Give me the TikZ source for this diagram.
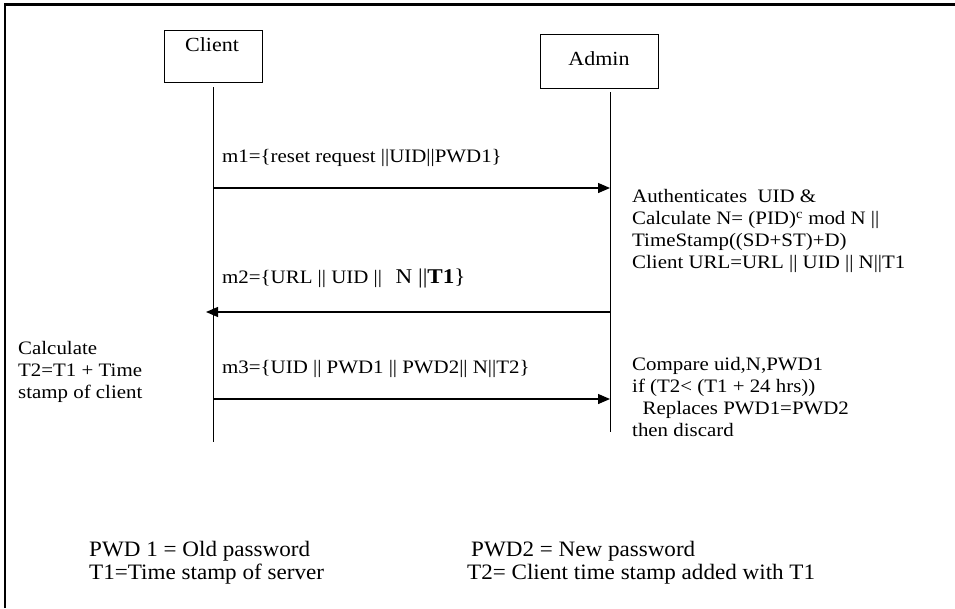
\documentclass[tikz,border=0pt]{standalone}
\usepackage{fontspec}
\setmainfont{Liberation Serif}
\newfontfamily\bodyfont[FakeStretch=1.1]{Liberation Serif}
\newfontfamily\legfont[FakeStretch=1.05]{Liberation Serif}
\usetikzlibrary{arrows.meta}
\tikzset{
  actor/.style={draw, line width=1pt, minimum width=98pt, minimum height=52pt, inner sep=0pt},
  lifeline/.style={line width=1pt},
  msg/.style={line width=1.3pt, -{Triangle[length=12pt,width=10pt]}},
  lbl/.style={anchor=base west, inner sep=0pt, font=\bodyfont\fontsize{19}{22}\selectfont},
  blk/.style={anchor=north west, inner sep=0pt, align=left, font=\bodyfont\fontsize{19}{22}\selectfont},
  legend/.style={anchor=base west, inner sep=0pt, font=\legfont\fontsize{22}{24}\selectfont},
  actorlbl/.style={inner sep=0pt, font=\bodyfont\fontsize{20}{22}\selectfont},
}
\begin{document}
\begin{tikzpicture}[x=1pt,y=-1pt]
\useasboundingbox (0,0) rectangle (955,608);
\draw[line width=2.5pt] (5,608) -- (5,4.5) -- (955,4.5);
% actors
\node[actor] (client) at (213,56) {};
\node[actorlbl, anchor=base] (clientlbl) at (212,51) {Client};
\node[actor, minimum width=118pt, minimum height=54pt] (admin) at (599,61) {};
\node[actorlbl] (adminlbl) at (599,59) {Admin};
% lifelines
\coordinate (cl0) at (213,87);
\coordinate (cl1) at (213,442);
\coordinate (al0) at (610,92);
\coordinate (al1) at (610,432);
\draw[lifeline] (cl0) -- (cl1);
\draw[lifeline] (al0) -- (al1);
% messages
\coordinate (m1a) at (213,188);
\coordinate (m1b) at (610,188);
\coordinate (m2a) at (610,312);
\coordinate (m2b) at (206,312);
\coordinate (m3a) at (213,399);
\coordinate (m3b) at (610,399);
\draw[msg] (m1a) -- (m1b);
\draw[msg] (m2a) -- (m2b);
\draw[msg] (m3a) -- (m3b);
\node[lbl] (m1l) at (222,162) {m1=\{reset request ||UID||PWD1\}};
\node[lbl] (m2l) at (222,283) {m2=\{URL || UID || \ \,{\fontsize{21}{22}\selectfont N ||\textbf{T1}\}}};
\node[lbl] (m3l) at (222,373) {m3=\{UID || PWD1 || PWD2|| N||T2\}};
% annotations
\node[blk] (auth) at (632,189) {Authenticates\ \ UID \&\\
Calculate N= (PID)\textsuperscript{c} mod N ||\\
TimeStamp((SD+ST)+D)\\
Client URL=URL || UID || N||T1};
\node[blk] (calc) at (18,341) {Calculate\\ T2=T1 + Time\\ stamp of client};
\node[blk] (cmp) at (632,357) {Compare uid,N,PWD1\\
if (T2< (T1 + 24 hrs))\\
\ \ Replaces PWD1=PWD2\\
then discard};
% legend
\node[legend] (lg1) at (89,556) {PWD 1 = Old password};
\node[legend] (lg2) at (89,579) {T1=Time stamp of server};
\node[legend] (lg3) at (471,556) {PWD2 = New password};
\node[legend] (lg4) at (467,579) {T2= Client time stamp added with T1};
\end{tikzpicture}
\end{document}
